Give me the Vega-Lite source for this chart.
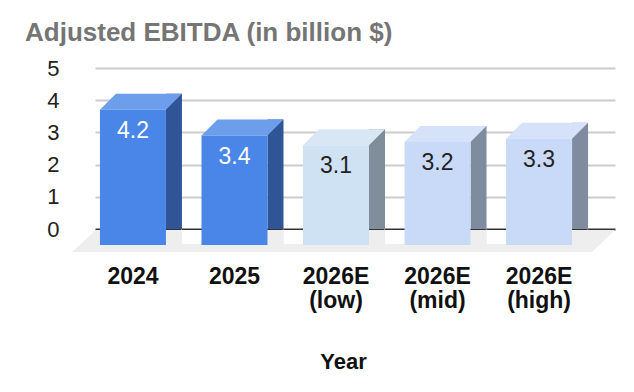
{
  "$schema": "https://vega.github.io/schema/vega-lite/v6.json",
  "width": 520,
  "height": 161,
  "autosize": "none",
  "padding": {"left": 95, "top": 68, "right": 19, "bottom": 163},
  "config": {"view": {"stroke": null}, "font": "Liberation Sans"},
  "title": {"text": "Adjusted EBITDA (in billion $)", "anchor": "start", "frame": "group", "fontSize": 26, "fontWeight": "bold", "color": "#757575", "font": "Liberation Sans", "dx": -70, "dy": -7},
  "data": {"values": [
    {"Year": "2024", "value": 4.2},
    {"Year": "2025", "value": 3.4},
    {"Year": "2026E (low)", "value": 3.1},
    {"Year": "2026E (mid)", "value": 3.2},
    {"Year": "2026E (high)", "value": 3.3}
  ]},
  "encoding": {
    "x": {"field": "Year", "type": "nominal", "sort": ["2024", "2025", "2026E (low)", "2026E (mid)", "2026E (high)"],
      "scale": {"domain": ["2024", "2025", "2026E (low)", "2026E (mid)", "2026E (high)"], "paddingInner": 0.35, "paddingOuter": 0.236, "align": 0.4375},
      "axis": {"labelExpr": "split(datum.label, ' ')", "labelOffset": -16, "labelFontSize": 23, "labelFontWeight": "bold", "labelColor": "#111111", "labelFont": "Liberation Sans", "ticks": false, "tickSize": 0, "domain": false, "labelPadding": 36, "labelLineHeight": 24, "labelAngle": 0, "labelBaseline": "top", "labelOverlap": false,
        "title": "Year", "titleFontSize": 22, "titleFontWeight": "bold", "titleColor": "#111111", "titleFont": "Liberation Sans", "titleX": 248, "titleY": 139, "titleBaseline": "alphabetic"}},
    "y": {"field": "value", "type": "quantitative",
      "scale": {"domain": [0, 5], "nice": false, "zero": true},
      "axis": {"values": [0, 1, 2, 3, 4, 5], "domain": false, "ticks": false, "tickSize": 0, "labelPadding": 36, "labelFontSize": 22, "labelColor": "#222222", "labelFont": "Liberation Sans", "title": null, "grid": true,
        "gridColor": {"condition": {"test": "datum.value === 0", "value": "#333333"}, "value": "#cccccc"}, "gridWidth": 2}}
  },
  "layer": [
    {
      "transform": [{"filter": "datum.Year === '2026E (low)'"}],
      "mark": {"type": "point", "filled": true, "opacity": 1, "size": 4, "strokeWidth": 0, "color": "#eeeeee",
        "shape": "M-256,1 L263,1 L240,23 L-280,23 Z"},
      "encoding": {"y": {"datum": 0, "type": "quantitative"}}
    },
    {
      "transform": [{"filter": "datum.Year !== '2026E (high)'"}],
      "mark": {"type": "point", "filled": true, "opacity": 1, "size": 4, "strokeWidth": 0, "color": "#ffffff",
        "shape": "M33,1 L53,1 L53,15 L33,15 Z"},
      "encoding": {"y": {"datum": 0, "type": "quantitative"}}
    },
    {
      "mark": {"type": "bar", "width": 16, "xOffset": 25, "y2Offset": 16},
      "encoding": {"color": {"field": "Year", "type": "nominal", "legend": null,
        "scale": {"domain": ["2024", "2025", "2026E (low)", "2026E (mid)", "2026E (high)"], "range": ["#2f5597", "#2f5597", "#808e9b", "#7f8ca0", "#7f8ca0"]}}}
    },
    {
      "mark": {"type": "point", "filled": true, "opacity": 1, "size": 4, "strokeWidth": 0, "color": "#eeeeee",
        "shape": "M33,0 L33,16 L17,16 Z"},
      "encoding": {"y": {"datum": 0, "type": "quantitative"}}
    },
    {
      "mark": {"type": "point", "filled": true, "opacity": 1, "size": 4, "strokeWidth": 0,
        "shape": "M-49,16 L17,16 L33,0 L-33,0 Z"},
      "encoding": {"color": {"field": "Year", "type": "nominal", "legend": null,
        "scale": {"domain": ["2024", "2025", "2026E (low)", "2026E (mid)", "2026E (high)"], "range": ["#6d9eeb", "#6d9eeb", "#d9e7f5", "#d5e2f9", "#d5e2f9"]}}}
    },
    {
      "mark": {"type": "bar", "xOffset": -16, "yOffset": 16, "y2Offset": 16},
      "encoding": {"color": {"field": "Year", "type": "nominal", "legend": null,
        "scale": {"domain": ["2024", "2025", "2026E (low)", "2026E (mid)", "2026E (high)"], "range": ["#4a86e8", "#4a86e8", "#cfe2f3", "#c9daf8", "#c9daf8"]}}}
    },
    {
      "mark": {"type": "text", "xOffset": -16, "yOffset": 44, "baseline": "alphabetic", "align": "center", "fontSize": 23, "font": "Liberation Sans"},
      "encoding": {"text": {"field": "value", "type": "quantitative", "format": ".1f"},
        "color": {"field": "Year", "type": "nominal", "legend": null,
        "scale": {"domain": ["2024", "2025", "2026E (low)", "2026E (mid)", "2026E (high)"], "range": ["#ffffff", "#ffffff", "#222222", "#222222", "#222222"]}}}
    }
  ],
  "resolve": {"scale": {"color": "independent"}}
}
